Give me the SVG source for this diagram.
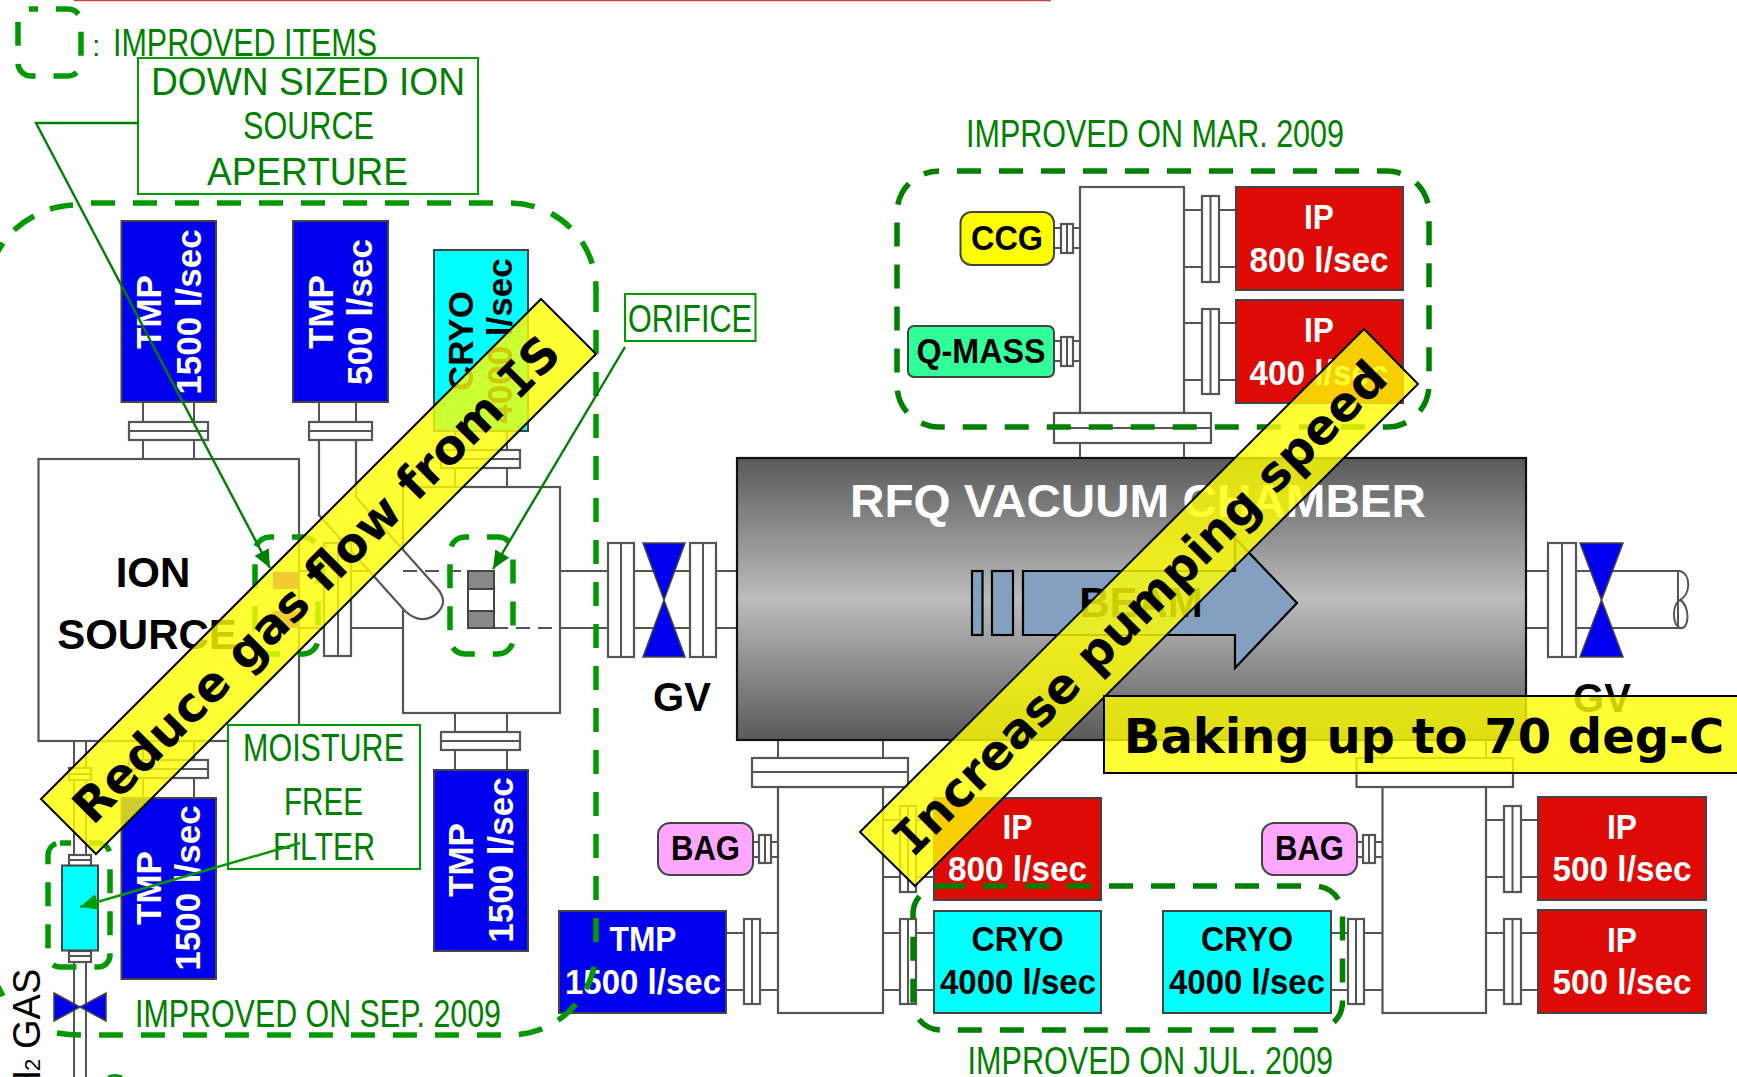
<svg xmlns="http://www.w3.org/2000/svg" width="1737" height="1077" viewBox="0 0 1737 1077">
<style>
text{font-family:"Liberation Sans",Arial,sans-serif}
.p{fill:none;stroke:#555;stroke-width:2}
.w{fill:#fff;stroke:#555;stroke-width:2.2}
.blue{fill:#0000ee;stroke:#444;stroke-width:2}
.red{fill:#dd0a05;stroke:#444;stroke-width:2}
.cy{fill:#00ffff;stroke:#444;stroke-width:2}
.gt{fill:#008000;font-size:38px}
.gb{fill:#fff;stroke:#009900;stroke-width:2}
.wl{fill:#fff;font-weight:bold;font-size:35px;text-anchor:middle}
.wv{fill:#fff;font-weight:bold;font-size:35px;text-anchor:middle}
.bl{fill:#000;font-weight:bold;font-size:35px;text-anchor:middle}
.bk{fill:#000;font-weight:bold;font-size:40px;text-anchor:middle}
.d1{fill:none;stroke:#009900;stroke-width:5.5;stroke-dasharray:24 18}
.d2{fill:none;stroke:#008000;stroke-width:5.5;stroke-dasharray:24 18}
.ds{fill:none;stroke:#009900;stroke-width:5.5}
.ld{fill:none;stroke:#008000;stroke-width:2.4}
.ban{fill:#ffff00;fill-opacity:.8;stroke:#000;stroke-width:2}
.bt{font-family:"DejaVu Sans",Verdana,sans-serif;font-weight:bold;font-size:48px;fill:#000;text-anchor:middle}
.mono{font-family:"DejaVu Sans Mono",monospace}
</style>
<defs>
<linearGradient id="rfq" x1="0" y1="0" x2="0" y2="1">
<stop offset="0" stop-color="#5a5a5a"/><stop offset=".5" stop-color="#bcbcbc"/><stop offset="1" stop-color="#5a5a5a"/>
</linearGradient>
<marker id="ah" markerUnits="userSpaceOnUse" markerWidth="20" markerHeight="18" refX="18" refY="8" orient="auto">
<path d="M0 0L18 8L0 16z" fill="#008000"/>
</marker>
<marker id="ah2" markerUnits="userSpaceOnUse" markerWidth="20" markerHeight="18" refX="18" refY="8" orient="auto">
<path d="M0 0L18 8L0 16z" fill="#009900"/>
</marker>
</defs>
<rect width="1737" height="1077" fill="#fff"/>
<line x1="74" y1="0.5" x2="1051" y2="0.5" stroke="#cc4444" stroke-width="1.5"/>

<g id="pipes">
<path class="p" d="M143 402V459M194 402V459M319 402V440M356 402V440M455 431V487M507 431V487M455 713V770M507 713V770M143 741V798M194 741V798M74 741V855M86 741V855M74 961V1077M86 961V1077"/>
<path class="p" d="M298 571H324M298 628H324M351 571H403M351 628H403"/>
<path class="p" d="M560 571H608M560 628H608M634 571H690M634 628H690M716 571H737M716 628H737"/>
<path class="p" d="M1526 571H1548M1526 628H1548M1576 571H1680M1576 628H1680"/>
<path class="p" d="M1680 571C1692 575 1690 595 1680 600C1672 605 1672 624 1680 628C1690 630 1690 605 1680 600M1678 571V628" stroke-width="1.5"/>
<path class="p" d="M1080 443V458M1184 443V458M1054 228H1080M1054 248H1080M1054 341H1080M1054 361H1080M1184 210H1236M1184 267H1236M1184 323H1236M1184 380H1236"/>
<path class="p" d="M778 740V758M883 740V758M1382 740V758M1486 740V758M726 933H778M726 990H778M883 933H934M883 990H934M883 820H934M883 877H934M1331 933H1382M1331 990H1382M1486 820H1538M1486 877H1538M1486 933H1538M1486 990H1538M753 842H778M753 857H778M1357 842H1382M1357 857H1382"/>
</g>

<g id="legend">
<rect x="18" y="9" width="63" height="67" rx="13" fill="none" stroke="#009900" stroke-width="5.5" stroke-dasharray="24 18" stroke-dashoffset="17"/>
<text class="gt" x="92" y="56" style="font-size:30px">:</text>
<text class="gt" x="113" y="56" textLength="264" lengthAdjust="spacingAndGlyphs">IMPROVED ITEMS</text>
</g>

<g id="ion-source">
<rect class="w" x="38.5" y="459" width="260.5" height="282"/>
<text class="bk" x="153" y="587" style="font-size:42px">ION</text>
<text class="bk" x="147" y="649" style="font-size:42px">SOURCE</text>
</g>
<g id="orifice-chamber">
<rect class="w" x="403" y="487" width="157" height="226"/>
<path class="w" d="M319 440V515L405 611Q420 625 435 615Q450 603 437 588L356 497V440"/>
<path class="p" d="M403 571H468" stroke-dasharray="14 8"/>
<path class="p" d="M494 628H560" stroke-dasharray="14 8"/>
<rect x="468" y="571" width="26" height="57" fill="#fff" stroke="#444" stroke-width="2"/>
<rect x="468" y="571" width="26" height="18" fill="#888" stroke="#444" stroke-width="2"/>
<rect x="468" y="611" width="26" height="17" fill="#888" stroke="#444" stroke-width="2"/>
</g>
<g id="aperture">
<rect class="w" x="324" y="543" width="27" height="113"/><line class="p" x1="338" y1="543" x2="338" y2="656"/>
<rect x="273" y="572" width="25" height="17" fill="#b400fa"/><rect x="273" y="611" width="25" height="17" fill="#b400fa"/>
</g>

<g id="tmp-1">
<rect class="w" x="129" y="422" width="79" height="18"/><line class="p" x1="129" y1="431" x2="208" y2="431"/>
<rect class="blue" x="121.5" y="221" width="94.5" height="181"/>
<text class="wv" transform="translate(161 312) rotate(-90)">TMP</text>
<text class="wv" transform="translate(201 312) rotate(-90)">1500 l/sec</text>
</g>
<g id="tmp-2">
<rect class="w" x="309" y="422" width="63" height="18"/><line class="p" x1="309" y1="431" x2="372" y2="431"/>
<rect class="blue" x="293" y="221" width="95" height="181"/>
<text class="wv" transform="translate(333 312) rotate(-90)">TMP</text>
<text class="wv" transform="translate(372 312) rotate(-90)">500 l/sec</text>
</g>
<g id="cryo-v">
<rect class="w" x="441" y="450" width="79" height="18"/><line class="p" x1="441" y1="459" x2="520" y2="459"/>
<rect class="cy" x="434" y="250" width="94" height="181"/>
<text class="bk" style="font-size:35px" transform="translate(473 341) rotate(-90)">CRYO</text>
<text class="bk" style="font-size:35px" transform="translate(512 341) rotate(-90)">4000 l/sec</text>
</g>
<g id="tmp-3">
<rect class="w" x="441" y="732" width="79" height="18"/><line class="p" x1="441" y1="741" x2="520" y2="741"/>
<rect class="blue" x="434" y="770" width="94" height="181"/>
<text class="wv" transform="translate(473 860) rotate(-90)">TMP</text>
<text class="wv" transform="translate(513 860) rotate(-90)">1500 l/sec</text>
</g>
<g id="tmp-4">
<rect class="w" x="129" y="760" width="79" height="18"/><line class="p" x1="129" y1="769" x2="208" y2="769"/>
<rect class="blue" x="121.5" y="798" width="94.5" height="181"/>
<text class="wv" transform="translate(161 888) rotate(-90)">TMP</text>
<text class="wv" transform="translate(200 888) rotate(-90)">1500 l/sec</text>
</g>
<g id="filter">
<rect class="w" x="69" y="768" width="22" height="12"/><line class="p" x1="69" y1="774" x2="91" y2="774"/>
<rect class="w" x="69" y="855" width="22" height="11"/><line class="p" x1="69" y1="860" x2="91" y2="860"/>
<rect class="w" x="69" y="951" width="22" height="11"/><line class="p" x1="69" y1="956" x2="91" y2="956"/>
<rect class="cy" x="62" y="865.5" width="36" height="85"/>
</g>
<g id="gas-valve">
<path d="M54 993L106 1021V993L54 1021z" fill="#0000ee" stroke="#444" stroke-width="1.5"/>
<text fill="#000" font-size="38" transform="translate(40 971) rotate(-90)"><tspan x="-126.400">H</tspan><tspan x="-100" font-size="22">2 </tspan><tspan x="-78">GAS</tspan></text>
</g>

<g id="rfq-chamber">
<rect x="737" y="458" width="789" height="282" fill="url(#rfq)" stroke="#111" stroke-width="2.2"/>
<text fill="#fff" font-weight="bold" font-size="46" x="850" y="517" textLength="576" lengthAdjust="spacingAndGlyphs">RFQ VACUUM CHAMBER</text>
<g fill="#84a0c0" stroke="#000" stroke-width="2.2">
<rect x="972" y="571" width="10.5" height="64"/><rect x="992" y="571" width="21" height="64"/>
<path d="M1023 571H1235V538L1297 603L1235 668V635H1023z"/>
</g>
<text class="bk" x="1141" y="617" style="font-size:42px">BEAM</text>
</g>

<g id="gv-left">
<rect class="w" x="608" y="543" width="26" height="114"/><line class="p" x1="621" y1="543" x2="621" y2="657"/>
<rect class="w" x="690" y="543" width="26" height="114"/><line class="p" x1="703" y1="543" x2="703" y2="657"/>
<path d="M643 543H685L643 657H685z" fill="#0000ee" stroke="#444" stroke-width="1.5"/>
<text class="bk" x="682" y="711">GV</text>
</g>
<g id="gv-right">
<rect class="w" x="1548" y="543" width="28" height="114"/><line class="p" x1="1562" y1="543" x2="1562" y2="657"/>
<path d="M1580 543H1623L1580 657H1623z" fill="#0000ee" stroke="#444" stroke-width="1.5"/>
<text class="bk" x="1602" y="712">GV</text>
</g>

<g id="top-chamber">
<rect class="w" x="1080" y="187" width="104" height="226"/>
<rect class="w" x="1054" y="413" width="157" height="30"/><line class="p" x1="1054" y1="428" x2="1211" y2="428"/>
<rect class="w" x="1202" y="196" width="17" height="86"/><line class="p" x1="1210.500" y1="196" x2="1210.500" y2="282"/>
<rect class="w" x="1202" y="309" width="17" height="85"/><line class="p" x1="1210.500" y1="309" x2="1210.500" y2="394"/>
<rect class="w" x="1061" y="224" width="12" height="29"/><line class="p" x1="1067" y1="224" x2="1067" y2="253"/>
<rect class="w" x="1061" y="337" width="12" height="29"/><line class="p" x1="1067" y1="337" x2="1067" y2="366"/>
</g>
<g id="ip-800-top">
<rect class="red" x="1236" y="187" width="167" height="103"/>
<text class="wl" x="1319" y="229" textLength="30" lengthAdjust="spacingAndGlyphs">IP</text><text class="wl" x="1319" y="272" textLength="139" lengthAdjust="spacingAndGlyphs">800 l/sec</text>
</g>
<g id="ip-400">
<rect class="red" x="1236" y="300" width="167" height="103"/>
<text class="wl" x="1319" y="342" textLength="30" lengthAdjust="spacingAndGlyphs">IP</text><text class="wl" x="1319" y="385" textLength="139" lengthAdjust="spacingAndGlyphs">400 l/sec</text>
</g>
<g id="ccg">
<rect x="960.500" y="212" width="93.500" height="53" rx="11" fill="#ffff00" stroke="#444" stroke-width="2"/>
<text class="bl" x="1007" y="250" textLength="72" lengthAdjust="spacingAndGlyphs">CCG</text>
</g>
<g id="q-mass">
<rect x="908" y="326" width="146" height="51" rx="6" fill="#33ff99" stroke="#444" stroke-width="2"/>
<text class="bl" x="981" y="363" textLength="129" lengthAdjust="spacingAndGlyphs">Q-MASS</text>
</g>

<g id="lower-left-chamber">
<rect class="w" x="778" y="787" width="105" height="226"/>
<rect class="w" x="752" y="758" width="156" height="29"/><line class="p" x1="752" y1="772" x2="908" y2="772"/>
<rect class="w" x="744" y="919" width="16" height="85"/><line class="p" x1="752" y1="919" x2="752" y2="1004"/>
<rect class="w" x="900" y="919" width="16" height="85"/><line class="p" x1="908" y1="919" x2="908" y2="1004"/>
<rect class="w" x="900" y="806" width="16" height="86"/><line class="p" x1="908" y1="806" x2="908" y2="892"/>
<rect class="w" x="759" y="835" width="12" height="28"/><line class="p" x1="765" y1="835" x2="765" y2="863"/>
</g>
<g id="lower-right-chamber">
<rect class="w" x="1382.500" y="787" width="103.500" height="226"/>
<rect class="w" x="1356.500" y="758" width="156.500" height="29"/><line class="p" x1="1356.500" y1="772" x2="1513" y2="772"/>
<rect class="w" x="1348" y="919" width="16" height="85"/><line class="p" x1="1356" y1="919" x2="1356" y2="1004"/>
<rect class="w" x="1504" y="806" width="17" height="86"/><line class="p" x1="1512.500" y1="806" x2="1512.500" y2="892"/>
<rect class="w" x="1504" y="919" width="17" height="85"/><line class="p" x1="1512.500" y1="919" x2="1512.500" y2="1004"/>
<rect class="w" x="1363" y="835" width="12" height="28"/><line class="p" x1="1369" y1="835" x2="1369" y2="863"/>
</g>
<g id="bag-left">
<rect x="658" y="823" width="95" height="52" rx="12" fill="#ffa6ff" stroke="#444" stroke-width="2"/>
<text class="bl" x="705.500" y="860" textLength="69" lengthAdjust="spacingAndGlyphs">BAG</text>
</g>
<g id="bag-right">
<rect x="1262" y="823" width="95" height="52" rx="12" fill="#ffa6ff" stroke="#444" stroke-width="2"/>
<text class="bl" x="1309.500" y="860" textLength="69" lengthAdjust="spacingAndGlyphs">BAG</text>
</g>
<g id="tmp-h">
<rect class="blue" x="559" y="911" width="167" height="102"/>
<text class="wl" x="643" y="951" textLength="67" lengthAdjust="spacingAndGlyphs">TMP</text><text class="wl" x="643" y="994" textLength="156" lengthAdjust="spacingAndGlyphs">1500 l/sec</text>
</g>
<g id="ip-800-bottom">
<rect class="red" x="934" y="798" width="167" height="102"/>
<text class="wl" x="1017.500" y="839" textLength="30" lengthAdjust="spacingAndGlyphs">IP</text><text class="wl" x="1017.500" y="881" textLength="139" lengthAdjust="spacingAndGlyphs">800 l/sec</text>
</g>
<g id="cryo-1">
<rect class="cy" x="934" y="911" width="167" height="102"/>
<text class="bl" x="1017.500" y="951" textLength="92" lengthAdjust="spacingAndGlyphs">CRYO</text><text class="bl" x="1018" y="994" textLength="156" lengthAdjust="spacingAndGlyphs">4000 l/sec</text>
</g>
<g id="cryo-2">
<rect class="cy" x="1163" y="911" width="168" height="102"/>
<text class="bl" x="1247" y="951" textLength="92" lengthAdjust="spacingAndGlyphs">CRYO</text><text class="bl" x="1247" y="994" textLength="156" lengthAdjust="spacingAndGlyphs">4000 l/sec</text>
</g>
<g id="ip-500-1">
<rect class="red" x="1538" y="797" width="168" height="103"/>
<text class="wl" x="1622" y="839" textLength="30" lengthAdjust="spacingAndGlyphs">IP</text><text class="wl" x="1622" y="881" textLength="139" lengthAdjust="spacingAndGlyphs">500 l/sec</text>
</g>
<g id="ip-500-2">
<rect class="red" x="1538" y="910" width="168" height="103"/>
<text class="wl" x="1622" y="952" textLength="30" lengthAdjust="spacingAndGlyphs">IP</text><text class="wl" x="1622" y="994" textLength="139" lengthAdjust="spacingAndGlyphs">500 l/sec</text>
</g>

<g id="improved-regions">
<path class="d1" d="M74 203H510A86 86 0 0 1 596 289" stroke-dashoffset="25"/>
<path class="d1" d="M596 288V942"/>
<path class="d1" d="M57 1033Q69 1035 81 1035H510A86 86 0 0 0 596 949"/>
<path class="ds" d="M73 205Q60 206 50 209M34 216Q23 222 14 230M3 243L-2 251M-3 985L3 996"/>
<rect class="d1" x="255" y="537" width="63" height="117" rx="15" stroke-dashoffset="20"/>
<rect class="d1" x="450" y="537" width="63" height="117" rx="15" stroke-dashoffset="20"/>
<rect class="d1" x="48" y="843" width="62" height="124" rx="12" stroke-dashoffset="13"/>
<rect class="d2" x="897" y="171" width="532" height="256" rx="42" stroke-dashoffset="24"/>
<rect class="d2" x="913" y="886" width="429.500" height="144" rx="28"/>
<path d="M108 1077Q115 1074 122 1077" fill="none" stroke="#009900" stroke-width="3"/>
<text class="gt" x="135" y="1027" textLength="366" lengthAdjust="spacingAndGlyphs">IMPROVED ON SEP. 2009</text>
<text class="gt" x="966" y="147" textLength="378" lengthAdjust="spacingAndGlyphs">IMPROVED ON MAR. 2009</text>
<text class="gt" x="967.500" y="1074" textLength="365.500" lengthAdjust="spacingAndGlyphs">IMPROVED ON JUL. 2009</text>
</g>

<g id="note-aperture">
<rect class="gb" x="138" y="58" width="340" height="136"/>
<text class="gt" x="151" y="95" textLength="314" lengthAdjust="spacingAndGlyphs">DOWN SIZED ION</text>
<text class="gt" x="243" y="139" textLength="131" lengthAdjust="spacingAndGlyphs">SOURCE</text>
<text class="gt" x="207" y="185" textLength="201" lengthAdjust="spacingAndGlyphs">APERTURE</text>
</g>
<g id="note-orifice">
<rect class="gb" x="625" y="294" width="130.500" height="47"/>
<text class="gt" x="628" y="332" textLength="124" lengthAdjust="spacingAndGlyphs">ORIFICE</text>
</g>
<g id="note-filter">
<rect class="gb" x="228" y="725" width="192" height="144"/>
<text class="gt" x="243" y="761" textLength="161" lengthAdjust="spacingAndGlyphs">MOISTURE</text>
<text class="gt" x="284" y="815" textLength="79" lengthAdjust="spacingAndGlyphs">FREE</text>
<text class="gt" x="273" y="860" textLength="102" lengthAdjust="spacingAndGlyphs">FILTER</text>
</g>

<g id="connectors">
<path class="ld" d="M138 123H36L270 568" marker-end="url(#ah)"/>
<path class="ld" d="M625 347L493 569" marker-end="url(#ah)"/>
<path class="ld" d="M300 843L80 907" style="stroke:#009900" marker-end="url(#ah2)"/>
</g>

<g id="banner-gas">
<polygon class="ban" points="541,299 596,354 96,854 41,799"/>
<text class="bt" transform="translate(316 579) rotate(-45)" y="17">Reduce gas flow from <tspan class="mono">I</tspan>S</text>
</g>
<g id="banner-pump">
<polygon class="ban" points="1364,329 1418,384 915,886 860,832"/>
<text class="bt" transform="translate(1139.500 607.500) rotate(-45)" y="17"><tspan class="mono">I</tspan>ncrease pumping speed</text>
</g>
<g id="banner-baking">
<rect class="ban" x="1104" y="696" width="640" height="77"/>
<text class="bt" x="1424" y="753">Baking up to 70 deg-C</text>
</g>
</svg>
